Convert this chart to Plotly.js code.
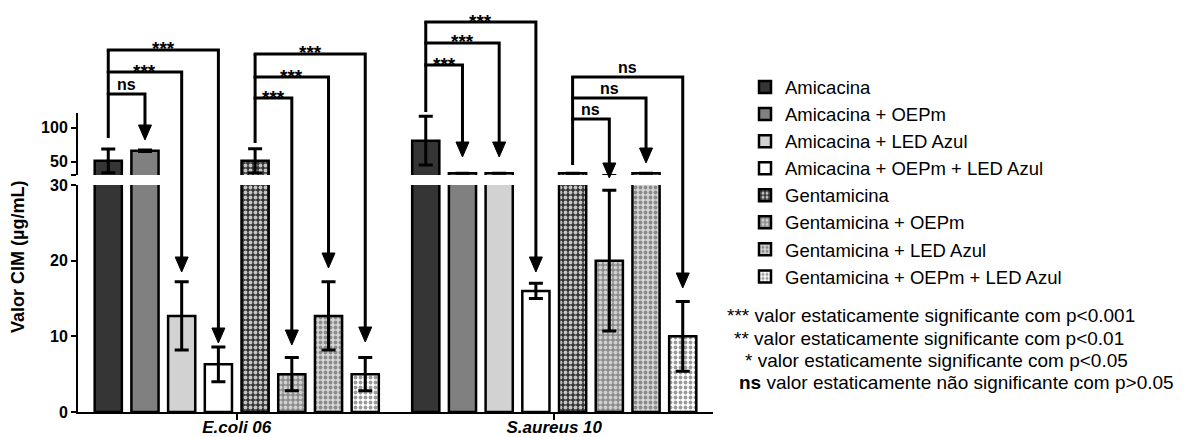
<!DOCTYPE html>
<html>
<head>
<meta charset="utf-8">
<script src="https://cdn.plot.ly/plotly-3.0.1.min.js"></script>
<style>
html,body{margin:0;padding:0;background:#fff;}
#chart{width:1189px;height:437px;}
</style>
</head>
<body>
<div id="chart"></div>
<script>
// ---------- DATA ----------
const categories = ['E.coli 06', 'S.aureus 10'];
const seriesNames = [
  'Amicacina', 'Amicacina + OEPm', 'Amicacina + LED Azul', 'Amicacina + OEPm + LED Azul',
  'Gentamicina', 'Gentamicina + OEPm', 'Gentamicina + LED Azul', 'Gentamicina + OEPm + LED Azul'
];
const amicacina = [51, 81];
const amicacinaErr = [17.5, 36];
const amicacinaOEPm = [66, 32.5];
const amicacinaOEPmErr = [1, 0];
const amicacinaLED = [12.7, 32.5];
const amicacinaLEDErr = [4.5, 0];
const amicacinaOEPmLED = [6.3, 16];
const amicacinaOEPmLEDErr = [2.3, 1];
const gentamicina = [51, 32.5];
const gentamicinaErr = [18, 0];
const gentamicinaOEPm = [5, 20];
const gentamicinaOEPmErr = [2.2, 9.3];
const gentamicinaLED = [12.7, 32.5];
const gentamicinaLEDErr = [4.5, 0];
const gentamicinaOEPmLED = [5, 10];
const gentamicinaOEPmLEDErr = [2.2, 4.6];

// significance labels per comparison group (arms ordered top -> bottom)
const sigLabels = [
  ['***', '***', 'ns'],
  ['***', '***', '***'],
  ['***', '***', '***'],
  ['ns', 'ns', 'ns']
];
const yTitle = 'Valor CIM (µg/mL)';
const footnotes = [
  ['***', 'valor estaticamente significante com p&lt;0.001'],
  ['**', 'valor estaticamente significante com p&lt;0.01'],
  ['*', 'valor estaticamente significante com p&lt;0.05'],
  ['<b>ns</b>', 'valor estaticamente não significante com p&gt;0.05']
];

const seriesValues = [amicacina, amicacinaOEPm, amicacinaLED, amicacinaOEPmLED,
  gentamicina, gentamicinaOEPm, gentamicinaLED, gentamicinaOEPmLED];
const seriesErrors = [amicacinaErr, amicacinaOEPmErr, amicacinaLEDErr, amicacinaOEPmLEDErr,
  gentamicinaErr, gentamicinaOEPmErr, gentamicinaLEDErr, gentamicinaOEPmLEDErr];

// ---------- STYLES ----------
const styles = [
  {bg: '#353535'},
  {bg: '#808080'},
  {bg: '#d2d2d2'},
  {bg: '#ffffff'},
  {bg: '#353535', fg: '#c4c4c4'},
  {bg: '#8c8c8c', fg: '#d0d0d0'},
  {bg: '#d6d6d6', fg: '#8a8a8a'},
  {bg: '#ffffff', fg: '#9a9a9a'}
];

const FONT = 'Liberation Sans, Arial, Helvetica, sans-serif';
const W = 1189, H = 437;
const PL = 78, PR = 713, PT = 113, PB = 412;
const bargap = 0.075, bargroupgap = 0.26;
const nSeries = seriesNames.length;
const slot = (1 - bargap) / nSeries;

const traces = [];
['y', 'y2'].forEach(function (ax) {
  for (let s = 0; s < nSeries; s++) {
    const st = styles[s];
    const marker = {color: st.bg, line: {color: '#000', width: 2.5}};
    if (st.fg) {
      marker.pattern = {shape: '.', bgcolor: st.bg, fgcolor: st.fg, size: 5, solidity: 0.45, fillmode: 'replace'};
    }
    traces.push({
      type: 'bar',
      x: categories,
      y: seriesValues[s],
      name: seriesNames[s],
      yaxis: ax,
      marker: marker,
      error_y: {type: 'data', array: seriesErrors[s], visible: true, color: '#000', thickness: 3, width: 7},
      showlegend: ax === 'y',
      hoverinfo: 'skip'
    });
  }
});

// ---------- helpers (pixel -> paper) ----------
function pxX(px) { return (px - PL) / (PR - PL); }
function pxY(py) { return (PB - py) / (PB - PT); }
function barX(g, i) { return (g + (i - 3.5) * slot + 0.5) / 2; } // paper x of bar centre
const dxPaper = 1 / (PR - PL);

// bracket geometry (pixel y levels)
const brackets = [
  {g: 0, from: 0, top: 50, bottom: 138, arms: [{to: 3, y: 50, tip: 343}, {to: 2, y: 72, tip: 272}, {to: 1, y: 94, tip: 140}]},
  {g: 0, from: 4, top: 54, bottom: 143, arms: [{to: 7, y: 54, tip: 342}, {to: 6, y: 77, tip: 268}, {to: 5, y: 98, tip: 345}]},
  {g: 1, from: 0, top: 22, bottom: 112, arms: [{to: 3, y: 22, tip: 272}, {to: 2, y: 43, tip: 157}, {to: 1, y: 65, tip: 157}]},
  {g: 1, from: 4, top: 77, bottom: 165, arms: [{to: 7, y: 77, tip: 288}, {to: 6, y: 98, tip: 163}, {to: 5, y: 119, tip: 178}]}
];
const headH = 15, headHW = 6.5;

const shapes = [];
const annotations = [];
brackets.forEach(function (b, bi) {
  const x0 = barX(b.g, b.from);
  shapes.push({type: 'line', xref: 'paper', yref: 'paper', x0: x0, x1: x0, y0: pxY(b.top), y1: pxY(b.bottom),
    line: {color: '#000', width: 3}});
  b.arms.forEach(function (a, ai) {
    const x1 = barX(b.g, a.to);
    const yl = pxY(a.y), yb = pxY(a.tip - headH);
    shapes.push({type: 'path', xref: 'paper', yref: 'paper',
      path: 'M' + (x0 - 1.5 * dxPaper) + ',' + yl + ' L' + x1 + ',' + yl + ' L' + x1 + ',' + yb,
      line: {color: '#000', width: 3}});
    shapes.push({type: 'path', xref: 'paper', yref: 'paper',
      path: 'M' + (x1 - headHW * dxPaper) + ',' + yb + ' L' + (x1 + headHW * dxPaper) + ',' + yb +
        ' L' + x1 + ',' + pxY(a.tip) + ' Z',
      fillcolor: '#000', line: {color: '#000', width: 1}});
    const lab = sigLabels[bi][ai];
    const isNs = lab === 'ns';
    annotations.push({xref: 'paper', yref: 'paper', x: (x0 + x1) / 2, y: pxY(a.y - (isNs ? 9.5 : 1)),
      xanchor: 'center', yanchor: 'middle', showarrow: false,
      text: isNs ? '<b>ns</b>' : lab,
      font: {family: FONT, size: isNs ? 16 : 19, color: '#000', weight: 'bold'}});
  });
});

// y-axis title
annotations.push({xref: 'paper', yref: 'paper', x: pxX(18), y: pxY(257), xanchor: 'center', yanchor: 'middle',
  showarrow: false, textangle: -90, text: '<b>' + yTitle + '</b>', font: {family: FONT, size: 18, color: '#000'}});

// footnotes
const fnX = [725, 732, 743, 737], fnY = [315, 338, 360, 382];
footnotes.forEach(function (f, i) {
  annotations.push({xref: 'paper', yref: 'paper', x: pxX(fnX[i]), y: pxY(fnY[i]), xanchor: 'left', yanchor: 'middle',
    showarrow: false, text: f[0] + ' ' + f[1], font: {family: FONT, size: 19, color: '#000'}});
});

const axisCommon = {
  showline: true, linewidth: 2, linecolor: '#000', ticks: 'outside', ticklen: 5, tickwidth: 2, tickcolor: '#000',
  showgrid: false, zeroline: false, fixedrange: true,
  tickfont: {family: FONT, size: 16, color: '#000', weight: 'bold'}
};

const layout = {
  width: W, height: H,
  margin: {l: PL, r: W - PR, t: PT, b: H - PB, autoexpand: false},
  paper_bgcolor: '#fff', plot_bgcolor: '#fff',
  font: {family: FONT, color: '#000'},
  barmode: 'group', bargap: bargap, bargroupgap: bargroupgap,
  hovermode: false,
  showlegend: true,
  legend: {x: pxX(745), xanchor: 'left', y: pxY(68.5), yanchor: 'top', font: {family: FONT, size: 18.5, color: '#000'},
    bgcolor: 'rgba(0,0,0,0)', borderwidth: 0, tracegroupgap: 0, traceorder: 'normal'},
  xaxis: Object.assign({}, axisCommon, {type: 'category', range: [-0.5, 1.5], anchor: 'y', ticklen: 6,
    ticklabelstandoff: -7,
    tickfont: {family: FONT, size: 17, color: '#000', weight: 'bold', style: 'italic'}}),
  yaxis: Object.assign({}, axisCommon, {domain: [0, (PB - 185) / (PB - PT)], range: [0, 30], tickvals: [0, 10, 20, 30]}),
  yaxis2: Object.assign({}, axisCommon, {domain: [(PB - 175) / (PB - PT), 1], range: [30, 122], anchor: 'x',
    tickvals: [30, 50, 100], ticktext: ['', '50', '100']}),
  shapes: shapes,
  annotations: annotations
};

Plotly.newPlot('chart', traces, layout, {displayModeBar: false, staticPlot: true});
</script>
</body>
</html>
